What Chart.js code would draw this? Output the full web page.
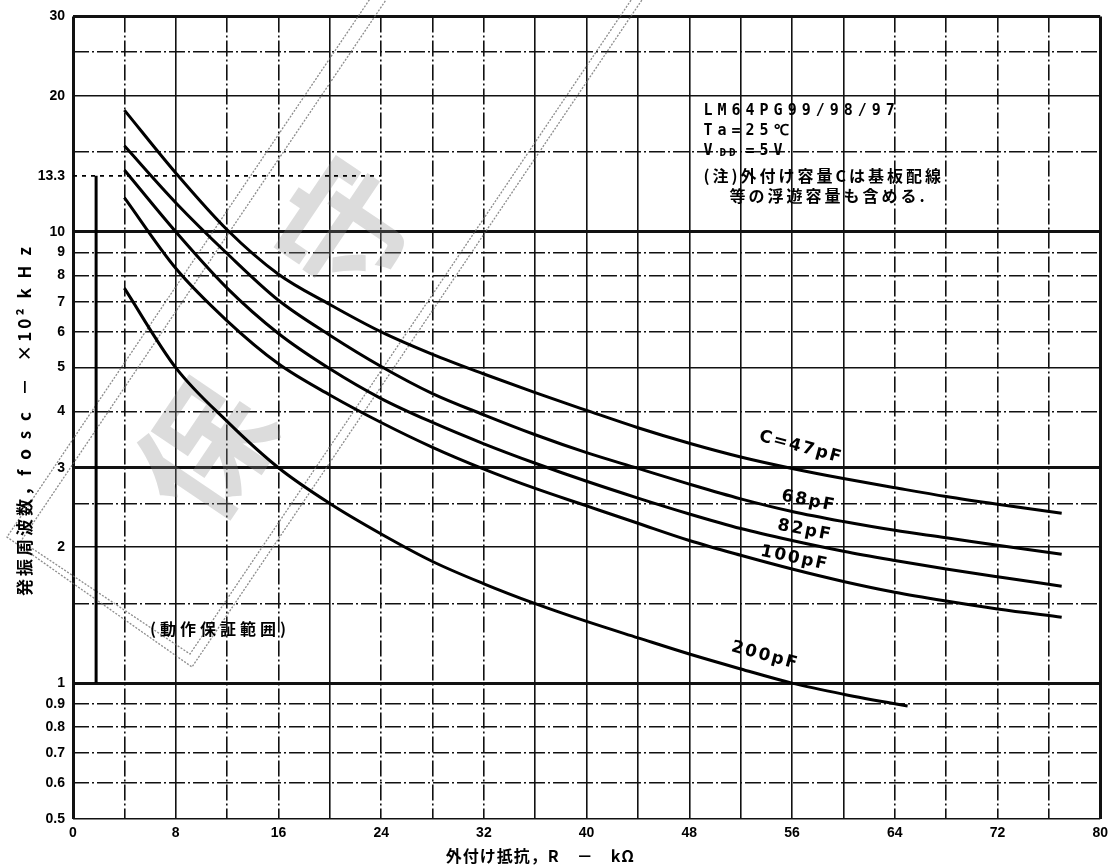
<!DOCTYPE html>
<html>
<head>
<meta charset="utf-8">
<script src="https://cdn.jsdelivr.net/npm/chart.js@4.4.0/dist/chart.umd.min.js"></script>
<style>
  html, body { margin: 0; padding: 0; background: #fff; }
</style>
</head>
<body>
<canvas id="chart" width="1114" height="867"></canvas>
<script>
// external resistance R (kOhm) and oscillation frequency (x10^2 kHz)
const resistance = [4, 8, 12, 16, 20, 24, 28, 32, 36, 40, 44, 48, 52, 56, 60, 64, 68, 72, 77];
const freq47pF  = [18.6, 13.5, 10.1, 8.05, 6.9, 6.0, 5.35, 4.84, 4.40, 4.02, 3.68, 3.40, 3.17, 2.99, 2.84, 2.71, 2.59, 2.49, 2.38];
const freq68pF  = [15.5, 11.6, 8.95, 7.05, 5.9, 5.03, 4.38, 3.93, 3.55, 3.24, 2.99, 2.76, 2.56, 2.40, 2.28, 2.18, 2.10, 2.02, 1.93];
const freq82pF  = [13.7, 10.0, 7.5, 5.95, 4.97, 4.27, 3.78, 3.39, 3.07, 2.80, 2.57, 2.37, 2.20, 2.07, 1.96, 1.87, 1.79, 1.72, 1.64];
const freq100pF = [11.9, 8.3, 6.35, 5.1, 4.35, 3.78, 3.33, 2.98, 2.70, 2.47, 2.26, 2.07, 1.92, 1.79, 1.68, 1.59, 1.52, 1.46, 1.40];
const resistance200 = [4, 8, 12, 16, 20, 24, 28, 32, 36, 40, 44, 48, 52, 56, 60, 64, 65];
const freq200pF = [7.5, 5.0, 3.8, 3.0, 2.5, 2.14, 1.86, 1.66, 1.50, 1.37, 1.26, 1.16, 1.075, 1.0, 0.945, 0.90, 0.89];

// guaranteed operating range marker
const rangeR = [1.8, 1.8];
const rangeF = [1, 13.3];
const rangeTopR = [0, 24];
const rangeTopF = [13.3, 13.3];

const xGrid = [0, 4, 8, 12, 16, 20, 24, 28, 32, 36, 40, 44, 48, 52, 56, 60, 64, 68, 72, 76, 80];
const xSolid = [0, 8, 20, 36, 40, 44, 48, 52, 56, 60, 80];
const yGrid = [0.5, 0.6, 0.7, 0.8, 0.9, 1, 1.5, 2, 2.5, 3, 4, 5, 6, 7, 8, 9, 10, 13.3, 15, 20, 25, 30];
const yLabels = ['0.5', '0.6', '0.7', '0.8', '0.9', '1', '', '2', '', '3', '4', '5', '6', '7', '8', '9', '10', '13.3', '', '20', '', '30'];
const ySolid = [0.5, 1, 2, 3, 5, 10, 20, 30];
const yThick = [1, 10, 30, 3];

const curveLabels = [
  { text: 'C=47pF', r: 56.7, f: 3.33, angle: 15 },
  { text: '68pF', r: 57.3, f: 2.53, angle: 11 },
  { text: '82pF', r: 57.0, f: 2.18, angle: 11 },
  { text: '100pF', r: 56.2, f: 1.89, angle: 12 },
  { text: '200pF', r: 53.9, f: 1.15, angle: 15 }
];

function points(xs, ys) {
  return xs.map((x, i) => ({ x: x, y: ys[i] }));
}

function curve(xs, ys) {
  return {
    data: points(xs, ys),
    borderColor: '#000',
    borderWidth: 3,
    pointRadius: 0,
    fill: false,
    cubicInterpolationMode: 'monotone'
  };
}

const dashDot = [16, 3, 2, 3];

const notesPlugin = {
  id: 'notes',
  beforeDatasetsDraw(chart) {
    // grey stamp on the scanned sheet
    const ctx = chart.ctx;
    ctx.save();
    ctx.strokeStyle = 'rgba(110,110,110,0.8)';
    ctx.lineWidth = 1.3;
    ctx.setLineDash([2, 1.5]);
    const a = 56 * Math.PI / 180;
    const dx = Math.cos(a), dy = -Math.sin(a);
    const rects = [[7, 537, 192, 667], [21, 541, 190, 654]];
    rects.forEach(function (c) {
      ctx.beginPath();
      ctx.moveTo(c[0] + dx * 900, c[1] + dy * 900);
      ctx.lineTo(c[0], c[1]);
      ctx.lineTo(c[2], c[3]);
      ctx.lineTo(c[2] + dx * 900, c[3] + dy * 900);
      ctx.stroke();
    });
    ctx.setLineDash([]);
    ctx.fillStyle = 'rgba(140,140,140,0.3)';
    ctx.font = 'bold 130px "Noto Sans CJK JP"';
    ctx.textAlign = 'center';
    ctx.textBaseline = 'middle';
    [['保', 205, 450], ['守', 345, 228]].forEach(function (g) {
      ctx.save();
      ctx.translate(g[1], g[2]);
      ctx.rotate(-a);
      ctx.fillText(g[0], 0, 0);
      ctx.restore();
    });
    ctx.restore();
  },
  afterDraw(chart) {
    const ctx = chart.ctx;
    const xs = chart.scales.x, ys = chart.scales.y;
    ctx.save();
    ctx.fillStyle = '#000';

    // curve labels
    ctx.font = 'bold 17px "DejaVu Sans"';
    ctx.letterSpacing = '2px';
    ctx.textAlign = 'center';
    ctx.textBaseline = 'middle';
    curveLabels.forEach(function (l) {
      ctx.save();
      ctx.translate(xs.getPixelForValue(l.r), ys.getPixelForValue(l.f));
      ctx.rotate(l.angle * Math.PI / 180);
      ctx.fillText(l.text, 0, 0);
      ctx.restore();
    });

    // condition block
    const nx = xs.getPixelForValue(49.1);
    const ny = ys.getPixelForValue(18.5);
    ctx.textAlign = 'left';
    ctx.font = 'bold 15px "DejaVu Sans Mono"';
    ctx.letterSpacing = '5px';
    ctx.fillText('LM64PG99/98/97', nx, ny);
    ctx.fillText('Ta=25℃', nx, ny + 20);
    ctx.fillText('V', nx, ny + 40);
    ctx.font = 'bold 11px "DejaVu Sans Mono"';
    ctx.letterSpacing = '3px';
    ctx.fillText('DD', nx + 16, ny + 42);
    ctx.font = 'bold 15px "DejaVu Sans Mono"';
    ctx.letterSpacing = '5px';
    ctx.fillText('=5V', nx + 42, ny + 40);
    ctx.font = 'bold 16px "Noto Sans CJK JP"';
    ctx.letterSpacing = '3px';
    ctx.fillText('(注)外付け容量Cは基板配線', nx, ny + 65);
    ctx.fillText('等の浮遊容量も含める.', nx + 26, ny + 85);

    // operating range note
    ctx.font = 'bold 16px "Noto Sans CJK JP"';
    ctx.letterSpacing = '4px';
    ctx.fillText('(動作保証範囲)', xs.getPixelForValue(6.0), ys.getPixelForValue(1.32));

    // axis titles
    ctx.letterSpacing = '1px';
    ctx.font = 'bold 16px "Noto Sans CJK JP"';
    ctx.textAlign = 'center';
    ctx.fillText('外付け抵抗，R　－　kΩ', xs.getPixelForValue(36.4), 856);

    ctx.save();
    ctx.translate(25, 420);
    ctx.rotate(-Math.PI / 2);
    ctx.font = 'bold 17px "Noto Sans CJK JP"';
    ctx.letterSpacing = '3px';
    ctx.fillText('発振周波数，f o s c  －  ×10² k H z', 0, 0);
    ctx.restore();

    ctx.restore();
  }
};

const rangeTop = Object.assign(curve(rangeTopR, rangeTopF), { borderWidth: 1.8, borderDash: [4, 5] });

new Chart(document.getElementById('chart').getContext('2d'), {
  type: 'line',
  data: {
    datasets: [
      curve(resistance, freq47pF),
      curve(resistance, freq68pF),
      curve(resistance, freq82pF),
      curve(resistance, freq100pF),
      curve(resistance200, freq200pF),
      Object.assign(curve(rangeR, rangeF), { borderWidth: 3 }),
      rangeTop
    ]
  },
  options: {
    responsive: false,
    animation: false,
    devicePixelRatio: 1,
    layout: { padding: { top: 13, right: 9, left: 0, bottom: 0 } },
    plugins: {
      legend: { display: false },
      tooltip: { enabled: false }
    },
    scales: {
      x: {
        type: 'linear',
        min: 0,
        max: 80,
        afterFit: function (s) { s.height = 48; },
        afterBuildTicks: function (s) { s.ticks = xGrid.map(v => ({ value: v })); },
        ticks: {
          autoSkip: false,
          maxRotation: 0,
          padding: 6,
          color: '#000',
          font: { family: 'Liberation Sans', size: 14, weight: 'bold' },
          callback: function (v) { return v % 8 === 0 ? String(v) : ''; }
        },
        grid: {
          drawTicks: false,
          color: '#111',
          lineWidth: function (c) {
            const v = c.tick ? c.tick.value : null;
            return (v === 0 || v === 80) ? 3 : 1.6;
          }
        },
        border: {
          display: false,
          dash: function (c) {
            if (!c.tick) return [];
            return xSolid.includes(c.tick.value) ? [] : dashDot;
          }
        }
      },
      y: {
        type: 'logarithmic',
        min: 0.5,
        max: 30,
        afterFit: function (s) { s.width = 73; },
        afterBuildTicks: function (s) { s.ticks = yGrid.map(v => ({ value: v })); },
        ticks: {
          autoSkip: false,
          padding: 8,
          color: '#000',
          font: { family: 'Liberation Sans', size: 14, weight: 'bold' },
          callback: function (v) {
            const i = yGrid.indexOf(v);
            return i >= 0 ? yLabels[i] : '';
          }
        },
        grid: {
          drawTicks: false,
          color: function (c) {
            return (c.tick && c.tick.value === 13.3) ? 'rgba(0,0,0,0)' : '#111';
          },
          lineWidth: function (c) {
            const v = c.tick ? c.tick.value : null;
            return yThick.includes(v) ? 3 : 1.6;
          }
        },
        border: {
          display: false,
          dash: function (c) {
            if (!c.tick) return [];
            return ySolid.includes(c.tick.value) ? [] : dashDot;
          }
        }
      }
    }
  },
  plugins: [notesPlugin]
});
</script>
</body>
</html>
